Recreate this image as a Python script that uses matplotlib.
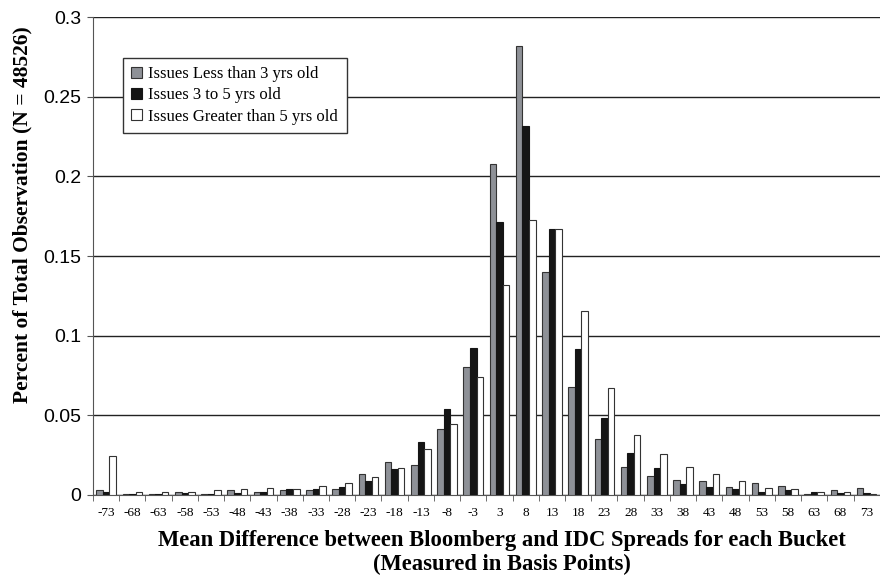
import matplotlib.pyplot as plt
import numpy as np

buckets = ["-73", "-68", "-63", "-58", "-53", "-48", "-43", "-38", "-33", "-28",
           "-23", "-18", "-13", "-8", "-3", "3", "8", "13", "18", "23",
           "28", "33", "38", "43", "48", "53", "58", "63", "68", "73"]

less3 = [0.0027, 0.0004, 0.0004, 0.0015, 0.0008, 0.0027, 0.0015, 0.0027, 0.0027, 0.0035,
         0.0129, 0.0204, 0.0185, 0.0414, 0.0804, 0.2076, 0.2819, 0.1400, 0.0677, 0.0348,
         0.0177, 0.0119, 0.0094, 0.0085, 0.0050, 0.0077, 0.0058, 0.0006, 0.0029, 0.0042]
mid3to5 = [0.0017, 0.0006, 0.0008, 0.0010, 0.0008, 0.0010, 0.0017, 0.0035, 0.0035, 0.0052,
           0.0088, 0.0163, 0.0331, 0.0542, 0.0923, 0.1712, 0.2317, 0.1668, 0.0915, 0.0484,
           0.0265, 0.0171, 0.0069, 0.0052, 0.0035, 0.0019, 0.0027, 0.0017, 0.0010, 0.0010]
over5 = [0.0246, 0.0015, 0.0015, 0.0015, 0.0027, 0.0035, 0.0042, 0.0035, 0.0058, 0.0077,
         0.0110, 0.0171, 0.0288, 0.0443, 0.0738, 0.1317, 0.1727, 0.1668, 0.1156, 0.0669,
         0.0377, 0.0254, 0.0177, 0.0129, 0.0085, 0.0042, 0.0035, 0.0017, 0.0017, 0.0008]

serif = "Liberation Serif"
sans = "Liberation Sans"

fig = plt.figure(figsize=(8.8, 5.76), dpi=100)
ax = fig.add_axes([0.1057, 0.141, 0.894, 0.829])

x = np.arange(len(buckets))
w = 0.25
ax.bar(x - w, less3, w, color="#8e9197", edgecolor="#333333", linewidth=0.8,
       label="Issues Less than 3 yrs old", zorder=3)
ax.bar(x, mid3to5, w, color="#151515", edgecolor="#151515", linewidth=0.8,
       label="Issues 3 to 5 yrs old", zorder=3)
ax.bar(x + w, over5, w, color="white", edgecolor="#333333", linewidth=0.8,
       label="Issues Greater than 5 yrs old", zorder=3)

ax.set_xlim(-0.5, len(buckets) - 0.5)
ax.set_ylim(0, 0.3)
ax.set_yticks([0, 0.05, 0.1, 0.15, 0.2, 0.25, 0.3])
ax.set_yticklabels(["0", "0.05", "0.1", "0.15", "0.2", "0.25", "0.3"],
                   family=sans, fontsize=14)
ax.yaxis.grid(True, color="#222222", linewidth=1.0, zorder=0)

ax.set_xticks(x)
ax.set_xticklabels(buckets, family=serif, fontsize=9.5)
ax.tick_params(axis="x", which="major", length=0, pad=9)
ax.set_xticks(np.arange(-0.5, len(buckets) + 0.5, 1), minor=True)
ax.tick_params(axis="x", which="minor", length=4, color="#555555", direction="out")
ax.tick_params(axis="y", length=4.3, pad=4.3, color="#555555", direction="out")

ax.spines["top"].set_visible(False)
ax.spines["right"].set_visible(False)
ax.spines["left"].set_color("#555555")
ax.spines["bottom"].set_color("#555555")

ax.set_ylabel("Percent of Total Observation (N = 48526)", family=serif,
              fontweight="bold", fontsize=15.5)
ax.yaxis.set_label_coords(-0.077, 0.586)
ax.set_xlabel("Mean Difference between Bloomberg and IDC Spreads for each Bucket\n"
              "(Measured in Basis Points)", family=serif, fontweight="bold",
              fontsize=16.3, linespacing=1.2)
ax.xaxis.set_label_coords(0.52, -0.073)
ax.xaxis.label.set_verticalalignment("top")

leg = ax.legend(loc="upper left", bbox_to_anchor=(0.027, 0.933), prop={"family": serif, "size": 12},
                frameon=True, fancybox=False, edgecolor="#333333", framealpha=1,
                handlelength=0.65, handleheight=0.65, handletextpad=0.4,
                labelspacing=0.32, borderpad=0.5)
leg.get_frame().set_linewidth(1.0)

plt.savefig("out.png")
